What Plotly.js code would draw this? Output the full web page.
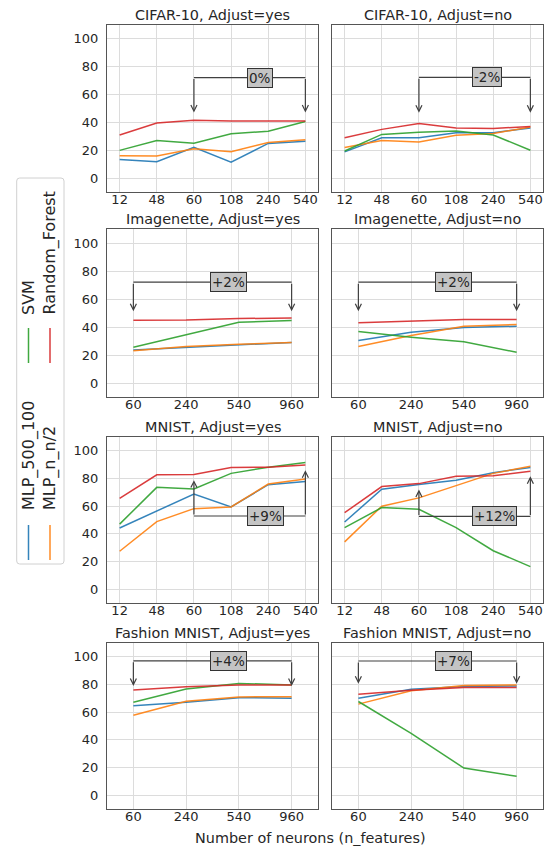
<!DOCTYPE html>
<html>
<head>
<meta charset="utf-8">
<script src="https://cdn.plot.ly/plotly-3.0.1.min.js"></script>
<style>html,body{margin:0;padding:0;background:#fff;}#chart{width:549px;height:846px;}</style>
</head>
<body>
<div id="chart"></div>
<script>
// ---- categories (number of neurons / n_features) ----
const catsA = ['12', '48', '60', '108', '240', '540'];
const catsB = ['60', '240', '540', '960'];

// ---- series names ----
const seriesNames = ['MLP_500_100', 'MLP_n_n/2', 'SVM', 'Random_Forest'];

// ---- CIFAR-10 ----
const cifarYes_mlp500 = [13.4, 11.7, 22.2, 11.5, 24.9, 26.5];
const cifarYes_mlpN   = [16.0, 15.8, 21.0, 19.0, 25.6, 27.5];
const cifarYes_svm    = [19.9, 27.0, 25.0, 31.8, 33.7, 40.7];
const cifarYes_rf     = [31.0, 39.5, 41.6, 41.0, 41.0, 41.0];

const cifarNo_mlp500 = [18.8, 29.0, 29.0, 32.6, 32.6, 36.0];
const cifarNo_mlpN   = [22.0, 27.0, 26.0, 30.7, 32.0, 36.7];
const cifarNo_svm    = [19.5, 31.4, 33.0, 33.8, 31.0, 20.0];
const cifarNo_rf     = [29.0, 35.0, 39.3, 36.0, 35.7, 37.0];

// ---- Imagenette ----
const imgYes_mlp500 = [23.6, 25.5, 27.2, 29.0];
const imgYes_mlpN   = [23.0, 26.0, 27.7, 29.0];
const imgYes_svm    = [25.5, 34.5, 43.4, 44.6];
const imgYes_rf     = [44.9, 45.0, 46.0, 46.5];

const imgNo_mlp500 = [30.3, 36.3, 39.6, 40.6];
const imgNo_mlpN   = [26.0, 33.9, 40.6, 41.8];
const imgNo_svm    = [36.8, 32.7, 29.4, 22.0];
const imgNo_rf     = [43.0, 44.0, 45.3, 45.3];

// ---- MNIST ----
const mnistYes_mlp500 = [44.2, 56.3, 68.8, 59.4, 75.5, 77.9];
const mnistYes_mlpN   = [27.4, 48.8, 58.2, 59.4, 76.0, 79.6];
const mnistYes_svm    = [47.0, 73.6, 72.4, 83.7, 88.2, 91.6];
const mnistYes_rf     = [65.6, 82.7, 82.9, 88.0, 88.2, 89.7];

const mnistNo_mlp500 = [48.6, 72.2, 75.6, 78.7, 84.2, 88.0];
const mnistNo_mlpN   = [34.2, 60.0, 66.0, 74.9, 83.7, 88.8];
const mnistNo_svm    = [44.5, 59.0, 57.7, 44.5, 27.8, 16.3];
const mnistNo_rf     = [55.3, 74.2, 76.3, 81.6, 82.0, 85.2];

// ---- Fashion MNIST ----
const fashionYes_mlp500 = [64.7, 67.1, 70.5, 70.0];
const fashionYes_mlpN   = [57.8, 67.9, 71.0, 71.2];
const fashionYes_svm    = [67.1, 76.7, 80.8, 79.6];
const fashionYes_rf     = [76.0, 78.4, 79.6, 79.6];

const fashionNo_mlp500 = [70.0, 76.6, 78.5, 79.0];
const fashionNo_mlpN   = [65.8, 75.4, 79.2, 79.7];
const fashionNo_svm    = [67.7, 44.7, 19.6, 13.6];
const fashionNo_rf     = [72.9, 75.8, 77.8, 77.8];

// ---- panel titles and gain labels ----
const panelTitles = ['CIFAR-10, Adjust=yes', 'CIFAR-10, Adjust=no',
                     'Imagenette, Adjust=yes', 'Imagenette, Adjust=no',
                     'MNIST, Adjust=yes', 'MNIST, Adjust=no',
                     'Fashion MNIST, Adjust=yes', 'Fashion MNIST, Adjust=no'];
const gainLabels = ['0%', '-2%', '+2%', '+2%', '+9%', '+12%', '+4%', '+7%'];
// bracket endpoints (categories) and levels
const bracketFrom = ['60', '60', '60', '60', '60', '60', '60', '60'];
const bracketTo   = ['540', '540', '960', '960', '540', '540', '960', '960'];
const bracketLevel = [72.2, 72.4, 72, 72, 52.9, 52.6, 97.1, 97];
const bracketTipFrom = [47.1, 47, 51.3, 51.3, 78.8, 72, 79, 80.6];
const bracketTipTo   = [47.1, 47, 51.3, 51.3, 86, 81.6, 79, 80.6];

// ---- styling / layout ----
const colors = ['#1f77b4', '#ff7f0e', '#2ca02c', '#d62728'];
const W = 549, H = 846;
const panels = [
  {cats: catsA, data: [cifarYes_mlp500, cifarYes_mlpN, cifarYes_svm, cifarYes_rf], labelFrac: 0.59},
  {cats: catsA, data: [cifarNo_mlp500, cifarNo_mlpN, cifarNo_svm, cifarNo_rf], labelFrac: 0.61},
  {cats: catsB, data: [imgYes_mlp500, imgYes_mlpN, imgYes_svm, imgYes_rf], labelFrac: 0.6},
  {cats: catsB, data: [imgNo_mlp500, imgNo_mlpN, imgNo_svm, imgNo_rf], labelFrac: 0.6},
  {cats: catsA, data: [mnistYes_mlp500, mnistYes_mlpN, mnistYes_svm, mnistYes_rf], labelFrac: 0.64},
  {cats: catsA, data: [mnistNo_mlp500, mnistNo_mlpN, mnistNo_svm, mnistNo_rf], labelFrac: 0.68},
  {cats: catsB, data: [fashionYes_mlp500, fashionYes_mlpN, fashionYes_svm, fashionYes_rf], labelFrac: 0.6},
  {cats: catsB, data: [fashionNo_mlp500, fashionNo_mlpN, fashionNo_svm, fashionNo_rf], labelFrac: 0.6}
];
const colPx = [[107, 318], [332, 543]];
const rowPx = [[25, 192], [229, 397], [437, 603], [643, 809]];
const px2x = p => p / W;
const px2y = p => 1 - p / H;

const FONT = 'DejaVu Sans, sans-serif';
const TXT = '#262626';
const traces = [];
const layout = {
  width: W, height: H,
  margin: {l: 0, r: 0, t: 0, b: 0},
  paper_bgcolor: '#ffffff', plot_bgcolor: '#ffffff',
  showlegend: false,
  font: {family: FONT, size: 13, color: TXT},
  annotations: [], shapes: []
};

panels.forEach((p, i) => {
  const n = i + 1;
  const col = i % 2, row = Math.floor(i / 2);
  const xa = 'xaxis' + (n === 1 ? '' : n), ya = 'yaxis' + (n === 1 ? '' : n);
  const xr = 'x' + (n === 1 ? '' : n), yr = 'y' + (n === 1 ? '' : n);
  const nc = p.cats.length;
  const pad = nc === 6 ? 0.34 : 0.5;
  layout[xa] = {
    domain: [px2x(colPx[col][0]), px2x(colPx[col][1])],
    anchor: yr, type: 'category', categoryorder: 'array', categoryarray: p.cats,
    range: [-pad, nc - 1 + pad],
    showgrid: true, gridcolor: '#dcdcdc', gridwidth: 1,
    showline: true, linecolor: '#555', linewidth: 1, mirror: true,
    ticks: '', ticklabelstandoff: -5, zeroline: false,
    tickfont: {family: FONT, size: 13, color: TXT}, fixedrange: true
  };
  layout[ya] = {
    domain: [px2y(rowPx[row][1]), px2y(rowPx[row][0])],
    anchor: xr, range: [-10, 110], tickmode: 'array', tickvals: [0, 20, 40, 60, 80, 100],
    showticklabels: col === 0,
    showgrid: true, gridcolor: '#dcdcdc', gridwidth: 1,
    showline: true, linecolor: '#555', linewidth: 1, mirror: true,
    ticks: '', ticklabelstandoff: 5, zeroline: false,
    tickfont: {family: FONT, size: 13, color: TXT}, fixedrange: true
  };
  p.data.forEach((vals, k) => {
    traces.push({
      type: 'scatter', mode: 'lines', x: p.cats, y: vals, name: seriesNames[k],
      xaxis: xr, yaxis: yr, line: {color: colors[k], width: 1.5}, opacity: 0.9,
      hoverinfo: 'skip'
    });
  });
  // subplot title
  layout.annotations.push({
    xref: 'paper', yref: 'paper',
    x: px2x((colPx[col][0] + colPx[col][1]) / 2), y: px2y(rowPx[row][0]),
    xanchor: 'center', yanchor: 'bottom', yshift: 0, showarrow: false,
    text: panelTitles[i], font: {family: FONT, size: 14.4, color: TXT}
  });
  // bracket
  const i1 = p.cats.indexOf(bracketFrom[i]), i2 = p.cats.indexOf(bracketTo[i]);
  const lv = bracketLevel[i];
  layout.shapes.push({
    type: 'line', xref: xr, yref: yr, x0: i1, x1: i2, y0: lv, y1: lv,
    line: {color: '#404040', width: 1.2}
  });
  [[i1, bracketTipFrom[i]], [i2, bracketTipTo[i]]].forEach(([xi, tip]) => {
    layout.annotations.push({
      xref: xr, yref: yr, axref: xr, ayref: yr,
      x: xi, y: tip, ax: xi, ay: lv, text: '', showarrow: true,
      arrowhead: 5, arrowsize: 1, arrowwidth: 1.2, arrowcolor: '#404040',
      standoff: 0, startstandoff: 0
    });
  });
  layout.annotations.push({
    xref: xr, yref: yr, x: i1 + p.labelFrac * (i2 - i1), y: lv,
    xanchor: 'center', yanchor: 'middle', showarrow: false,
    text: gainLabels[i], font: {family: FONT, size: 13.5, color: TXT},
    bgcolor: '#c4c4c4', bordercolor: '#333', borderwidth: 1, borderpad: 1
  });
});

// x-axis title
layout.annotations.push({
  xref: 'paper', yref: 'paper', x: px2x(310), y: px2y(838),
  xanchor: 'center', yanchor: 'middle', showarrow: false,
  text: 'Number of neurons (n_features)', font: {family: FONT, size: 14.4, color: TXT}
});

// ---- rotated legend drawn with shapes and text ----
const lgL = 16.7, lgR = 64, lgT = 178, lgB = 564, rr = 3;
layout.shapes.push({
  type: 'path', xref: 'paper', yref: 'paper',
  path: `M ${px2x(lgL + rr)} ${px2y(lgT)} L ${px2x(lgR - rr)} ${px2y(lgT)} Q ${px2x(lgR)} ${px2y(lgT)} ${px2x(lgR)} ${px2y(lgT + rr)} ` +
        `L ${px2x(lgR)} ${px2y(lgB - rr)} Q ${px2x(lgR)} ${px2y(lgB)} ${px2x(lgR - rr)} ${px2y(lgB)} ` +
        `L ${px2x(lgL + rr)} ${px2y(lgB)} Q ${px2x(lgL)} ${px2y(lgB)} ${px2x(lgL)} ${px2y(lgB - rr)} ` +
        `L ${px2x(lgL)} ${px2y(lgT + rr)} Q ${px2x(lgL)} ${px2y(lgT)} ${px2x(lgL + rr)} ${px2y(lgT)} Z`,
  line: {color: '#d0d0d0', width: 1}, fillcolor: 'rgba(255,255,255,0.8)'
});
const legendCols = [28.5, 50];
const legendItems = [
  {k: 0, col: 0, lineTop: 525, lineBot: 560, textStart: 512},
  {k: 1, col: 1, lineTop: 525, lineBot: 560, textStart: 512},
  {k: 2, col: 0, lineTop: 328, lineBot: 363, textStart: 317},
  {k: 3, col: 1, lineTop: 328, lineBot: 363, textStart: 317}
];
legendItems.forEach(it => {
  const cx = legendCols[it.col];
  layout.shapes.push({
    type: 'line', xref: 'paper', yref: 'paper',
    x0: px2x(cx), x1: px2x(cx), y0: px2y(it.lineTop), y1: px2y(it.lineBot),
    line: {color: colors[it.k], width: 1.5}, opacity: 0.9
  });
  layout.annotations.push({
    xref: 'paper', yref: 'paper', x: px2x(cx), y: px2y(it.textStart),
    xanchor: 'center', yanchor: 'bottom', textangle: -90, showarrow: false,
    text: seriesNames[it.k], font: {family: FONT, size: 16, color: TXT}
  });
});

Plotly.newPlot('chart', traces, layout, {staticPlot: true, displayModeBar: false});
</script>
</body>
</html>
